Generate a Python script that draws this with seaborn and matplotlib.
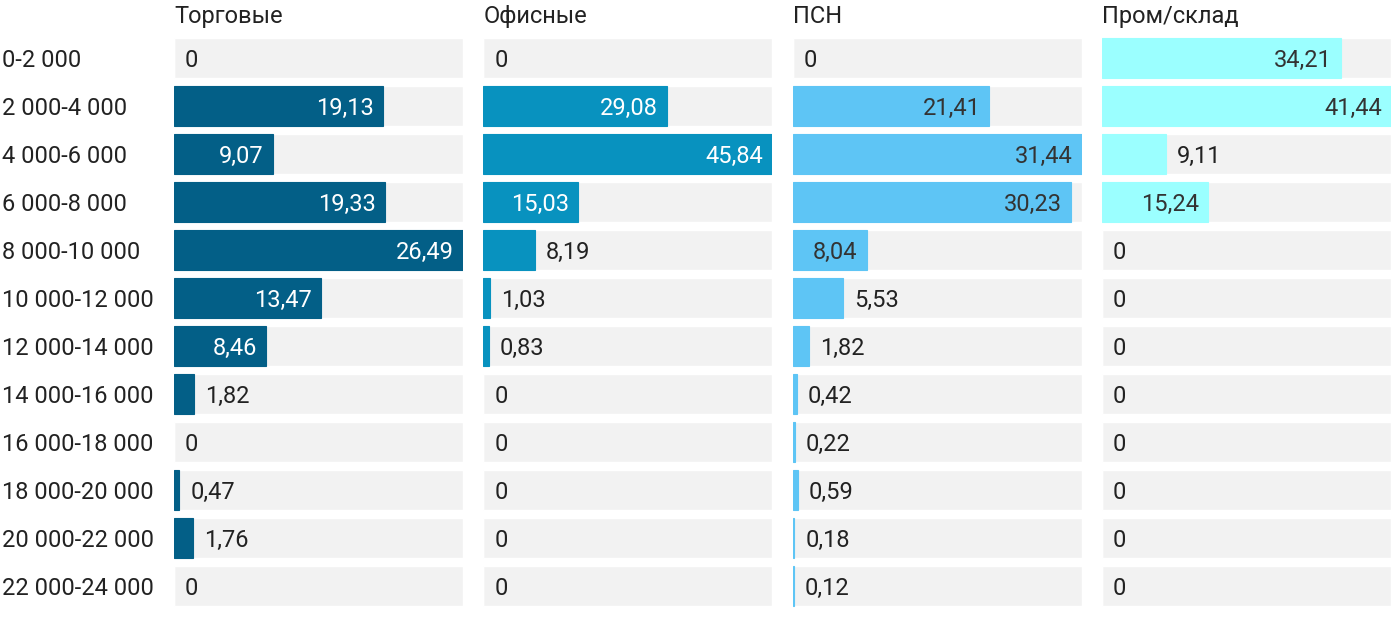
import matplotlib
matplotlib.use("Agg")
import matplotlib.pyplot as plt
import seaborn as sns
import pandas as pd

# data
categories = ["0-2 000", "2 000-4 000", "4 000-6 000", "6 000-8 000", "8 000-10 000",
              "10 000-12 000", "12 000-14 000", "14 000-16 000", "16 000-18 000",
              "18 000-20 000", "20 000-22 000", "22 000-24 000"]
torg = [0, 19.13, 9.07, 19.33, 26.49, 13.47, 8.46, 1.82, 0, 0.47, 1.76, 0]
ofis = [0, 29.08, 45.84, 15.03, 8.19, 1.03, 0.83, 0, 0, 0, 0, 0]
psn = [0, 21.41, 31.44, 30.23, 8.04, 5.53, 1.82, 0.42, 0.22, 0.59, 0.18, 0.12]
prom = [34.21, 41.44, 9.11, 15.24, 0, 0, 0, 0, 0, 0, 0, 0]
titles = ["Торговые", "Офисные", "ПСН", "Пром/склад"]
series = [torg, ofis, psn, prom]
colors = ["#035f87", "#0892bf", "#5ec5f5", "#9bffff"]
inside_text = ["white", "white", "#333333", "#333333"]

sns.set_theme(style="white")
plt.rcParams['font.family'] = ['Roboto', 'DejaVu Sans']

W, H = 1400, 622
fig = plt.figure(figsize=(14, 6.22), dpi=100)

panel_w = 289
gap = 20.33
left0 = 174
top = 34
row_h = 48
axes_h = row_h * len(categories)
fs = 17

for i, (title, vals) in enumerate(zip(titles, series)):
    x0 = left0 + i * (panel_w + gap)
    ax = fig.add_axes([x0 / W, (H - top - axes_h) / H, panel_w / W, axes_h / H])
    df = pd.DataFrame({"cat": categories, "val": vals})
    vmax = max(vals)
    df["bg"] = vmax
    sns.barplot(data=df, x="bg", y="cat", color="#f2f2f2", orient="h",
                width=0.835, ax=ax, saturation=1)
    n_bg = len(ax.patches)
    sns.barplot(data=df, x="val", y="cat", color=colors[i], orient="h",
                width=0.835, ax=ax, saturation=1)
    # give very thin non-zero bars a visible edge
    for p in ax.patches[n_bg:]:
        if p.get_width() > 0:
            p.set_edgecolor(colors[i])
            p.set_linewidth(0.8)
    ax.set_xlim(0, vmax)
    ax.set_ylim(len(categories) - 0.5, -0.5)
    ax.set_xlabel("")
    ax.set_ylabel("")
    ax.set_xticks([])
    sns.despine(ax=ax, left=True, bottom=True)
    ax.set_title(title, loc="left", fontsize=fs, color="#222222", pad=8)

    px_per_unit = panel_w / vmax
    for j, v in enumerate(vals):
        txt = "0" if v == 0 else f"{v:.2f}".replace(".", ",")
        bar_px = v * px_per_unit
        if bar_px > 68:
            ax.text(v - 9 / px_per_unit, j, txt, ha="right", va="center_baseline",
                    fontsize=fs, color=inside_text[i])
        else:
            ax.text(v + 11 / px_per_unit, j, txt, ha="left", va="center_baseline",
                    fontsize=fs, color="#222222")

    if i == 0:
        ax.set_yticks(range(len(categories)))
        ax.set_yticklabels(categories, fontsize=fs, color="#222222", ha="left")
        ax.tick_params(axis="y", length=0, pad=(x0 - 2) * 0.72)
    else:
        ax.set_yticks([])

fig.savefig("out.png", dpi=100)
